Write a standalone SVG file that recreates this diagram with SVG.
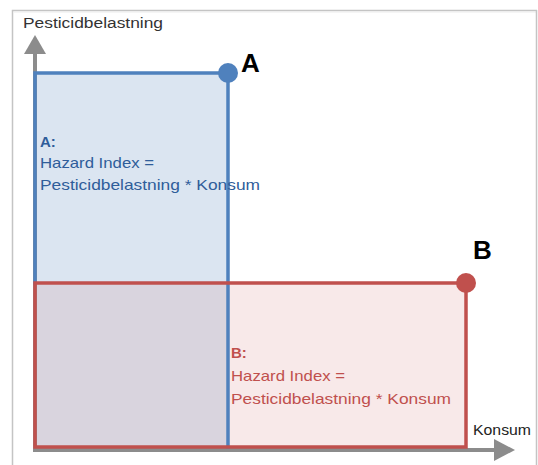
<svg xmlns="http://www.w3.org/2000/svg" width="538" height="465" viewBox="0 0 538 465">
<defs>
<style>
.ax{stroke:#8c8c8c;stroke-width:4;fill:none}
.ah{fill:#8c8c8c}
.bl{stroke:#4f81bd;stroke-width:3.5;fill:none;stroke-linecap:square}
.rd{stroke:#c0504d;stroke-width:3.5;fill:none;stroke-linecap:square}
.t{font-family:"Liberation Sans",Arial,sans-serif;font-size:14px}
.lab{font-size:15px}
.big{font-family:"Liberation Sans",Arial,sans-serif;font-size:26px;font-weight:bold;fill:#000}
.ta{fill:#2f5d9a}
.tb{fill:#c0504d}
</style>
</defs>
<rect x="0" y="0" width="538" height="465" fill="#ffffff"/>
<g id="frame">
<path d="M12.5 465 V10.5 H537" fill="none" stroke="#c4c4c4" stroke-width="1.5"/>
<path d="M14 12 H536" fill="none" stroke="#ececec" stroke-width="1"/>
<path d="M536.5 10 V465" fill="none" stroke="#c4c4c4" stroke-width="1.5"/>
</g>
<g id="areaA">
<rect x="35" y="73" width="193" height="210" fill="#dbe5f1"/>
</g>
<g id="areaB">
<rect x="228" y="283" width="238" height="164" fill="#f8e9e9"/>
<rect x="35" y="283" width="193" height="164" fill="#d9d4de"/>
</g>
<g id="connectors">
<line class="ax" x1="35" y1="452" x2="35" y2="52"/>
<polygon class="ah" points="24,54 46,54 35,35"/>
<line class="ax" x1="35" y1="450" x2="496" y2="450"/>
<polygon class="ah" points="494,439 494,461 515,450"/>
</g>
<g id="rectA">
<path class="bl" d="M35 283 V73 H228 V447"/>
</g>
<g id="rectB">
<path class="rd" d="M35 283 H466 V447 H35 Z"/>
</g>
<g id="pointA">
<circle cx="228" cy="73" r="10" fill="#4f81bd"/>
<text class="big" x="241" y="72">A</text>
</g>
<g id="pointB">
<circle cx="466" cy="283" r="10" fill="#c0504d"/>
<text class="big" x="473" y="259">B</text>
</g>
<g id="labels">
<text class="t" x="23" y="28" fill="#333" textLength="140" lengthAdjust="spacingAndGlyphs">Pesticidbelastning</text>
<text class="t" x="473" y="435" fill="#222" textLength="58" lengthAdjust="spacingAndGlyphs">Konsum</text>
</g>
<g id="labelA" class="t lab ta">
<text x="40" y="147" font-weight="bold">A:</text>
<text x="40" y="168" textLength="114" lengthAdjust="spacingAndGlyphs">Hazard Index =</text>
<text x="40" y="190" textLength="220" lengthAdjust="spacingAndGlyphs">Pesticidbelastning * Konsum</text>
</g>
<g id="labelB" class="t lab tb">
<text x="231" y="358" font-weight="bold">B:</text>
<text x="231" y="381" textLength="114" lengthAdjust="spacingAndGlyphs">Hazard Index =</text>
<text x="231" y="404" textLength="220" lengthAdjust="spacingAndGlyphs">Pesticidbelastning * Konsum</text>
</g>
</svg>
